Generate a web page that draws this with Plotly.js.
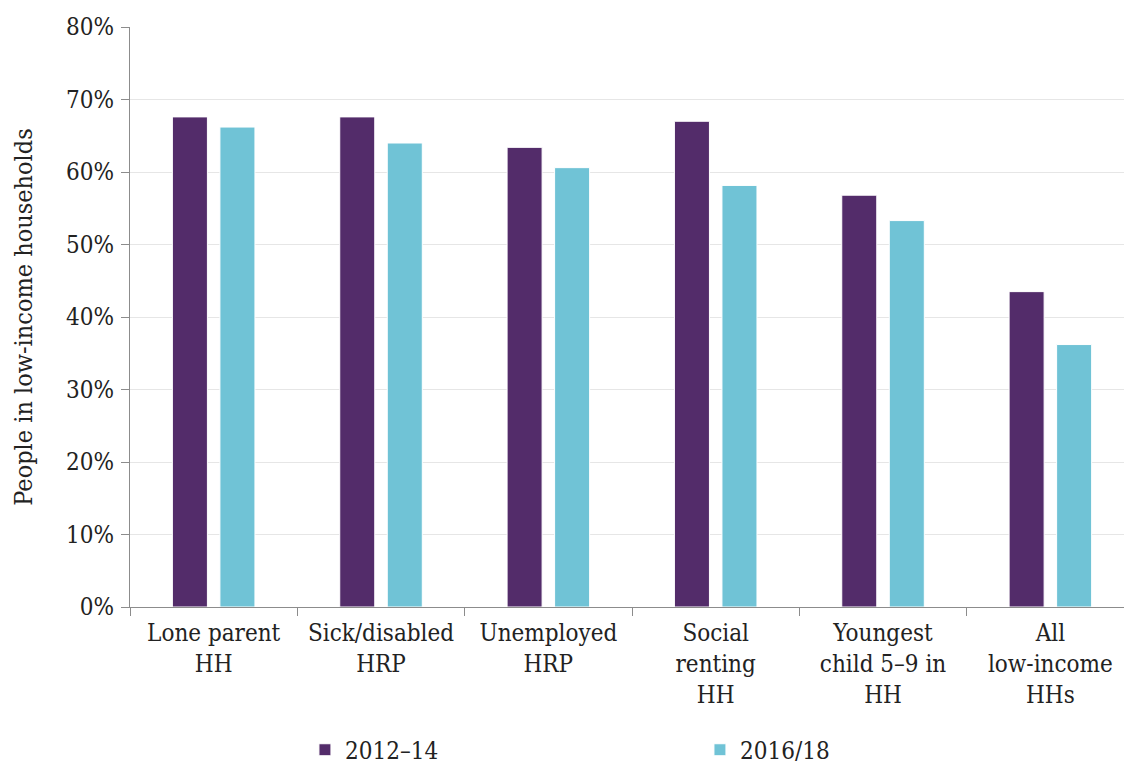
<!DOCTYPE html>
<html>
<head>
<meta charset="utf-8">
<script src="https://cdn.plot.ly/plotly-3.0.1.min.js"></script>
<style>html,body{margin:0;padding:0;background:#fff;}#chart{width:1124px;height:765px;}</style>
</head>
<body>
<div id="chart"></div>
<script>
const categories = ["Lone parent<br>HH", "Sick/disabled<br>HRP", "Unemployed<br>HRP", "Social<br>renting<br>HH", "Youngest<br>child 5–9 in<br>HH", "All<br>low-income<br>HHs"];
const seriesNames = ["2012–14", "2016/18"];
const values2012_14 = [67.6, 67.6, 63.4, 67.0, 56.8, 43.5];
const values2016_18 = [66.2, 64.0, 60.6, 58.15, 53.3, 36.2];
const yTickVals = [0, 10, 20, 30, 40, 50, 60, 70, 80];
const yTickText = ["0%", "10%", "20%", "30%", "40%", "50%", "60%", "70%", "80%"];

const FONT = "'DejaVu Serif Condensed', 'Liberation Serif', serif";
const purple = "#532c6a";
const cyan = "#70c3d6";

const traces = [
  {type: "bar", name: seriesNames[0], x: categories, y: values2012_14,
   marker: {color: purple, line: {color: "#ffffff", width: 1}}, hoverinfo: "skip"},
  {type: "bar", name: seriesNames[1], x: categories, y: values2016_18,
   marker: {color: cyan, line: {color: "#ffffff", width: 1}}, hoverinfo: "skip"}
];

const layout = {
  width: 1124, height: 765,
  margin: {l: 130, r: 0, t: 27, b: 158, autoexpand: false},
  paper_bgcolor: "#fff", plot_bgcolor: "#fff",
  font: {family: FONT, size: 24, color: "#222"},
  barmode: "group",
  bargap: 0.432,
  bargroupgap: 0.263,
  showlegend: true,
  legend: {orientation: "h", x: 0.176, xanchor: "left", y: -0.208, yanchor: "top",
           entrywidth: 350, entrywidthmode: "pixels",
           font: {family: FONT, size: 24, color: "#222"}},
  xaxis: {
    type: "category", range: [-0.5, 5.44], automargin: false,
    showline: true, linecolor: "#8c8c8c", linewidth: 1.2,
    ticks: "outside", ticklen: 8, tickcolor: "#8c8c8c", tickson: "boundaries",
    ticklabelstandoff: 4,
    showgrid: false, zeroline: false,
    tickfont: {family: FONT, size: 24, color: "#222"}
  },
  yaxis: {
    range: [0, 80], tickvals: yTickVals, ticktext: yTickText, automargin: false,
    showline: true, linecolor: "#8c8c8c", linewidth: 1.2,
    ticks: "outside", ticklen: 8, tickcolor: "#8c8c8c",
    ticklabelstandoff: 2,
    showgrid: true, gridcolor: "#e6e6e6", gridwidth: 1,
    zeroline: false,
    tickfont: {family: FONT, size: 24, color: "#222"},
    title: {text: "People in low-income households", standoff: 26,
            font: {family: FONT, size: 25, color: "#222"}}
  }
};

Plotly.newPlot("chart", traces, layout, {displayModeBar: false, staticPlot: true});
</script>
</body>
</html>
